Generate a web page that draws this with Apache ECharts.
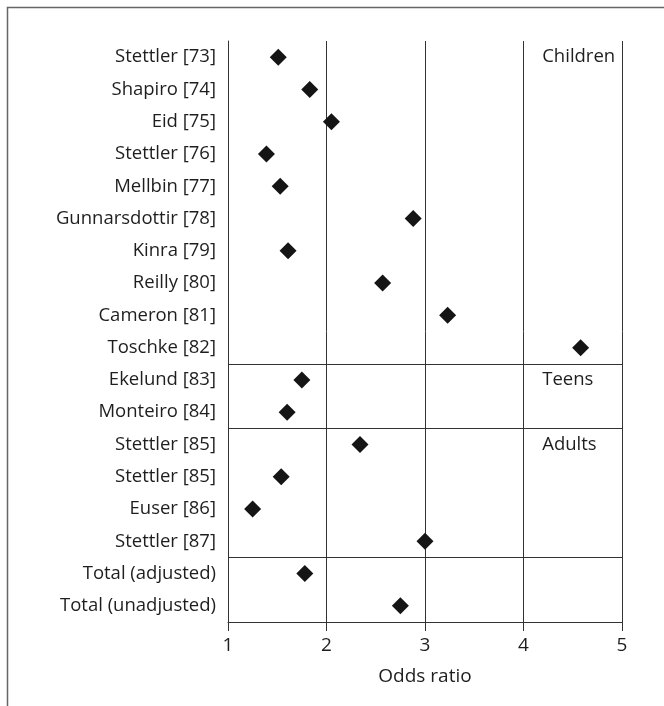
<!DOCTYPE html>
<html>
<head>
<meta charset="utf-8">
<script src="https://cdn.jsdelivr.net/npm/echarts@6/dist/echarts.min.js"></script>
<style>
  html, body { margin: 0; padding: 0; background: #fff; }
  #chart { width: 664px; height: 706px; }
</style>
</head>
<body>
<div id="chart"></div>
<script>
// Studies, top to bottom
const studies = [
  'Stettler [73]', 'Shapiro [74]', 'Eid [75]', 'Stettler [76]', 'Mellbin [77]',
  'Gunnarsdottir [78]', 'Kinra [79]', 'Reilly [80]', 'Cameron [81]', 'Toschke [82]',
  'Ekelund [83]', 'Monteiro [84]',
  'Stettler [85]', 'Stettler [85] ', 'Euser [86]', 'Stettler [87]',
  'Total (adjusted)', 'Total (unadjusted)'
];
// Odds ratio per study
const oddsRatios = [
  1.51, 1.83, 2.05, 1.39, 1.53,
  2.88, 1.61, 2.57, 3.23, 4.58,
  1.75, 1.60,
  2.34, 1.54, 1.25, 3.00,
  1.78, 2.75
];
// Age-group labels and the first study row of each group
const groupNames = ['Children', 'Teens', 'Adults'];
const groupRows = ['Stettler [73]', 'Ekelund [83]', 'Stettler [85]'];
const groupLabelX = 4.19;
// Rows that start a new block (separator drawn above them)
const blockStarts = [10, 12, 16];
const xTicks = [1, 2, 3, 4, 5];

const FONT = '"Open Sans", "Noto Sans", sans-serif';
const LINE = '#333';
const TEXT = '#1e1e1e';

const chart = echarts.init(document.getElementById('chart'), null, { renderer: 'canvas' });

chart.setOption({
  animation: false,
  backgroundColor: '#fff',
  graphic: [{
    type: 'rect',
    shape: { x: 7.5, y: 7.5, width: 720, height: 720 },
    style: { fill: 'none', stroke: '#666', lineWidth: 1.5 },
    silent: true
  }],
  grid: { left: 228, right: 42, top: 41, bottom: 84, containLabel: false },
  xAxis: {
    type: 'value',
    min: xTicks[0],
    max: xTicks[xTicks.length - 1],
    interval: 1,
    name: 'Odds ratio',
    nameLocation: 'middle',
    nameGap: 45,
    nameTextStyle: { fontFamily: FONT, fontSize: 19, color: TEXT },
    axisLine: { show: true, lineStyle: { color: LINE, width: 1 } },
    axisTick: { show: true, length: 9, lineStyle: { color: LINE, width: 1 } },
    axisLabel: { margin: 14, fontFamily: FONT, fontSize: 19, color: TEXT,
      formatter: v => xTicks.includes(v) ? String(v) : '' },
    splitLine: { show: true, lineStyle: { color: LINE, width: 1 } }
  },
  yAxis: {
    type: 'category',
    data: studies,
    inverse: true,
    boundaryGap: true,
    axisLine: { show: true, lineStyle: { color: LINE, width: 1 } },
    axisTick: { show: false },
    axisLabel: { margin: 12, fontFamily: FONT, fontSize: 18.5, color: TEXT,
      formatter: v => v.trim() },
    splitLine: {
      show: true,
      interval: (idx) => blockStarts.includes(idx),
      lineStyle: { color: LINE, width: 1 }
    }
  },
  series: [
    {
      type: 'scatter',
      symbol: 'diamond',
      symbolSize: [17, 17],
      itemStyle: { color: '#151515', opacity: 1 },
      data: studies.map((s, i) => [oddsRatios[i], s]),
      z: 5
    },
    {
      type: 'scatter',
      symbolSize: 0,
      silent: true,
      itemStyle: { opacity: 1 },
      data: groupNames.map((g, i) => ({ name: g, value: [groupLabelX, groupRows[i]] })),
      label: {
        show: true,
        position: 'right',
        distance: 0,
        formatter: p => p.name,
        fontFamily: FONT,
        fontSize: 18.5,
        color: TEXT
      }
    }
  ]
});
</script>
</body>
</html>
